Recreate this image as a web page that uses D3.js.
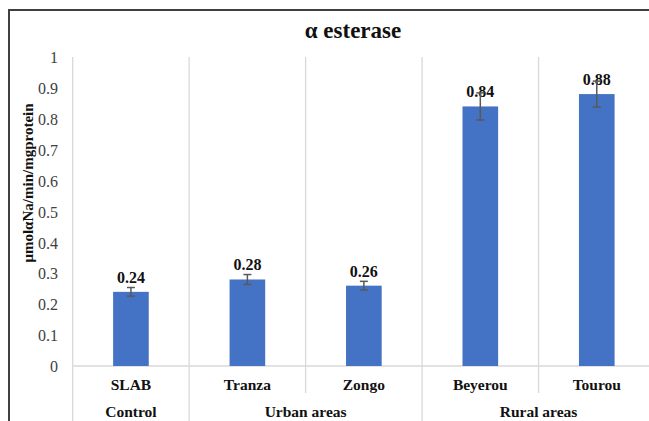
<!DOCTYPE html>
<html>
<head>
<meta charset="utf-8">
<script src="https://cdn.jsdelivr.net/npm/d3@7"></script>
<style>
  html, body { margin: 0; padding: 0; background: #fff; }
  svg { display: block; }
</style>
</head>
<body>
<svg id="chart" width="649" height="421"></svg>
<script>
// Site data
const sites = ["SLAB", "Tranza", "Zongo", "Beyerou", "Tourou"];
const activity = [0.24, 0.28, 0.26, 0.84, 0.88];
const errors = [0.014, 0.016, 0.014, 0.044, 0.042];
const groupNames = ["Control", "Urban areas", "Rural areas"];
const groupSizes = [1, 2, 2];
const yTicks = [0, 0.1, 0.2, 0.3, 0.4, 0.5, 0.6, 0.7, 0.8, 0.9, 1];

const svg = d3.select("#chart");
const FONT = "Liberation Serif";

const plot = { left: 72.7, right: 655, top: 57, bottom: 366 };

const x = d3.scaleBand()
  .domain(sites)
  .range([plot.left, plot.right])
  .paddingInner(0.694)
  .paddingOuter(0.347);
const step = x.step();
const catLeft = i => plot.left + i * step;

const y = d3.scaleLinear().domain([0, 1]).range([plot.bottom, plot.top]);

// Outer frame
svg.append("rect")
  .attr("x", 9).attr("y", 10)
  .attr("width", 700).attr("height", 430)
  .attr("fill", "none")
  .attr("stroke", "#404040")
  .attr("stroke-width", 2);

// Title
svg.append("text")
  .attr("x", 353).attr("y", 38)
  .attr("text-anchor", "middle")
  .style("font-weight", "bold")
  .style("font-size", "23px")
  .attr("fill", "#111")
  .text("α esterase");

// Vertical separators through the plot and the two-level category axis
const grid = svg.append("g").attr("stroke", "#d9d9d9").attr("stroke-width", 1.3);
const groupStarts = [];
groupSizes.reduce((acc, n) => { groupStarts.push(acc); return acc + n; }, 0);
for (let i = 0; i <= sites.length; i++) {
  const xi = catLeft(i);
  const isGroupEdge = groupStarts.includes(i) || i === sites.length;
  grid.append("line")
    .attr("x1", xi).attr("x2", xi)
    .attr("y1", plot.top)
    .attr("y2", isGroupEdge ? 425 : 393);
}
// Baseline
grid.append("line")
  .attr("x1", plot.left).attr("x2", 660)
  .attr("y1", y(0)).attr("y2", y(0));

// Y axis tick labels
const yAxis = d3.axisLeft(y).tickValues(yTicks).tickSize(0).tickPadding(0)
  .tickFormat(d => String(+d.toFixed(1)));
const yg = svg.append("g")
  .attr("transform", `translate(58,0)`)
  .call(yAxis);
yg.select(".domain").remove();
yg.attr("font-family", null).attr("font-size", null);
yg.selectAll("text")
  .style("font-size", "16px")
  .attr("fill", "#404040")
  .attr("dy", "0.35em");

// Y axis title
svg.append("text")
  .attr("transform", "translate(33,183) rotate(-90)")
  .attr("text-anchor", "middle")
  .style("font-weight", "bold")
  .style("font-size", "15px")
  .attr("fill", "#111")
  .text("μmolαNa/min/mgprotein");

// Bars
svg.append("g").selectAll("rect")
  .data(sites)
  .join("rect")
  .attr("x", d => x(d))
  .attr("width", x.bandwidth())
  .attr("y", (d, i) => y(activity[i]))
  .attr("height", (d, i) => y(0) - y(activity[i]))
  .attr("fill", "#4472c4");

// Value labels
svg.append("g").selectAll("text")
  .data(sites)
  .join("text")
  .attr("x", d => x(d) + x.bandwidth() / 2)
  .attr("y", (d, i) => y(activity[i]) - 9)
  .attr("text-anchor", "middle")
  .style("font-weight", "bold")
  .style("font-size", "16px")
  .attr("fill", "#111")
  .text((d, i) => activity[i].toFixed(2));

// Error bars
const eb = svg.append("g").attr("stroke", "#595959").attr("stroke-width", 1.5);
sites.forEach((s, i) => {
  const cx = x(s) + x.bandwidth() / 2;
  const hi = y(activity[i] + errors[i]);
  const lo = y(activity[i] - errors[i]);
  eb.append("line").attr("x1", cx).attr("x2", cx).attr("y1", hi).attr("y2", lo);
  [hi, lo].forEach(v => eb.append("line")
    .attr("x1", cx - 4).attr("x2", cx + 4).attr("y1", v).attr("y2", v));
});

// Category labels
svg.append("g").selectAll("text")
  .data(sites)
  .join("text")
  .attr("x", d => x(d) + x.bandwidth() / 2)
  .attr("y", 389.5)
  .attr("text-anchor", "middle")
  .style("font-weight", "bold")
  .style("font-size", "15.5px")
  .attr("fill", "#111")
  .text(d => d);

// Group labels
svg.append("g").selectAll("text")
  .data(groupNames)
  .join("text")
  .attr("x", (d, i) => catLeft(groupStarts[i]) + groupSizes[i] * step / 2)
  .attr("y", 417)
  .attr("text-anchor", "middle")
  .style("font-weight", "bold")
  .style("font-size", "15.5px")
  .attr("fill", "#111")
  .text(d => d);

// Serif face for every label
svg.selectAll("text").style("font-family", FONT);
</script>
</body>
</html>
